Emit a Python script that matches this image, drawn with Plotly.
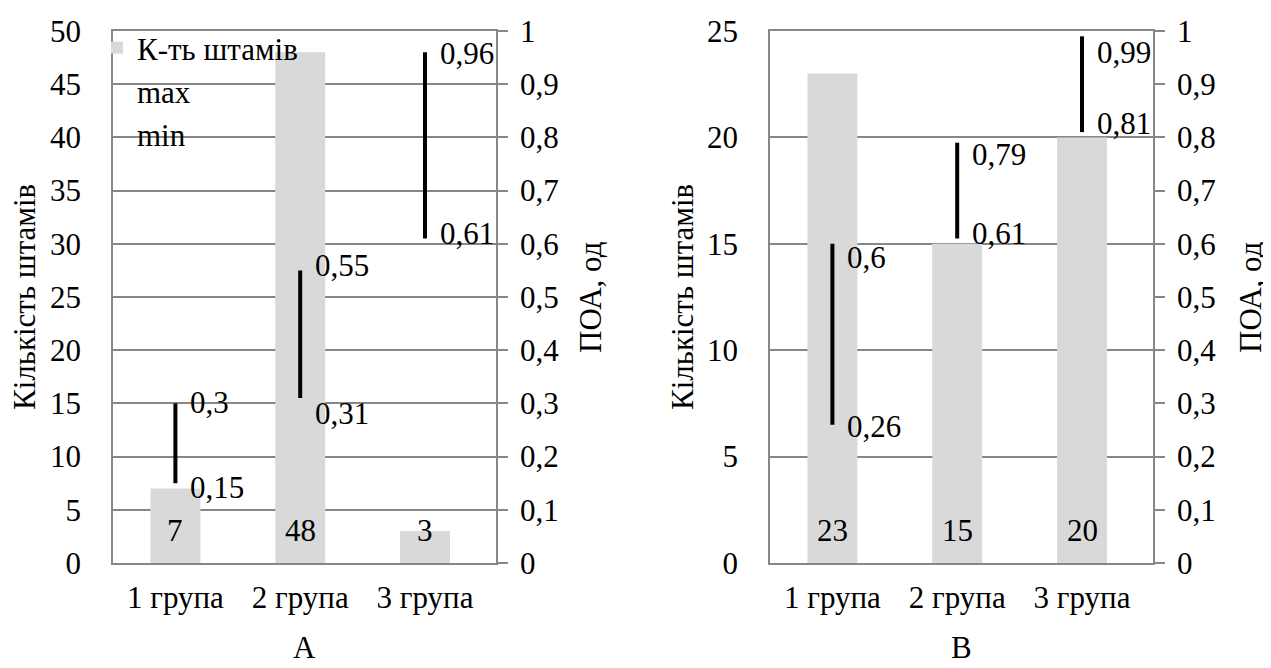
import plotly.graph_objects as go

# ---------------- data ----------------
categories = ["1 група", "2 група", "3 група"]

count_A = [7, 48, 3]
max_A = [0.3, 0.55, 0.96]
min_A = [0.15, 0.31, 0.61]

count_B = [23, 15, 20]
max_B = [0.6, 0.79, 0.99]
min_B = [0.26, 0.61, 0.81]

left_ticks_A = [0, 5, 10, 15, 20, 25, 30, 35, 40, 45, 50]
left_ticks_B = [0, 5, 10, 15, 20, 25]
right_ticks = [0, 0.1, 0.2, 0.3, 0.4, 0.5, 0.6, 0.7, 0.8, 0.9, 1]

legend_names = ["К-ть штамів", "max", "min"]
left_title = "Кількість штамів"
right_title = "ПОА, од"
panel_labels = ["А", "В"]

# ---------------- styles ----------------
FONT = "Liberation Serif"
FS = 31
BAR_COLOR = "#d9d9d9"
AX_COLOR = "#878787"
W, H = 1271, 668
OX, OY = 8, 8  # page body offset compensation


def px_x(px):
    return (px - OX) / W


def px_y(py):
    return (H - (py - OY)) / H


# label vertical nudges (px, positive = up)
max_shift_A = [1, 5, -1]
min_shift_A = [-4, -15, 5]
max_shift_B = [-14, -12, -16]
min_shift_B = [-2, 5, 9]


def fmt(v):
    return ("%g" % v).replace(".", ",")


fig = go.Figure()

panels = [
    dict(x="x", y="y", y2="y2", cnt=count_A, mx=max_A, mn=min_A,
         ms=max_shift_A, ns=min_shift_A, legend=True),
    dict(x="x2", y="y3", y2="y4", cnt=count_B, mx=max_B, mn=min_B,
         ms=max_shift_B, ns=min_shift_B, legend=False),
]

annotations = []
for p in panels:
    fig.add_trace(go.Bar(
        x=categories, y=p["cnt"], xaxis=p["x"], yaxis=p["y"],
        name=legend_names[0], marker=dict(color=BAR_COLOR, line=dict(width=0)),
        width=0.4, showlegend=p["legend"], hoverinfo="skip",
    ))
    # high-low lines
    lx, ly = [], []
    for c, a, b in zip(categories, p["mn"], p["mx"]):
        lx += [c, c, None]
        ly += [a, b, None]
    fig.add_trace(go.Scatter(
        x=lx, y=ly, xaxis=p["x"], yaxis=p["y2"], mode="lines",
        line=dict(color="black", width=4), showlegend=False, hoverinfo="skip",
    ))
    fig.add_trace(go.Scatter(
        x=categories, y=p["mx"], xaxis=p["x"], yaxis=p["y2"], mode="markers",
        marker=dict(color="rgba(0,0,0,0)", size=1), name=legend_names[1],
        showlegend=p["legend"], hoverinfo="skip",
    ))
    fig.add_trace(go.Scatter(
        x=categories, y=p["mn"], xaxis=p["x"], yaxis=p["y2"], mode="markers",
        marker=dict(color="rgba(0,0,0,0)", size=1), name=legend_names[2],
        showlegend=p["legend"], hoverinfo="skip",
    ))
    yref2 = p["y2"]
    for c, v, s in zip(categories, p["mx"], p["ms"]):
        annotations.append(dict(x=c, y=v, xref=p["x"], yref=yref2, text=fmt(v),
                                showarrow=False, xanchor="left", yanchor="middle",
                                xshift=13, yshift=s))
    for c, v, s in zip(categories, p["mn"], p["ns"]):
        annotations.append(dict(x=c, y=v, xref=p["x"], yref=yref2, text=fmt(v),
                                showarrow=False, xanchor="left", yanchor="middle",
                                xshift=13, yshift=s))
    for c, v in zip(categories, p["cnt"]):
        annotations.append(dict(x=c, y=0, xref=p["x"], yref=p["y"], text=str(v),
                                showarrow=False, xanchor="center", yanchor="middle",
                                yshift=33))

# plot area positions (reference pixels)
A_left, A_right = 113, 496
B_left, B_right = 770, 1153
top_px, bot_px = 31, 563
ydom = [px_y(bot_px), px_y(top_px)]

# axis titles and panel labels
annotations += [
    dict(x=px_x(24), y=px_y(297), xref="paper", yref="paper", text=left_title,
         textangle=-90, showarrow=False, xanchor="center", yanchor="middle"),
    dict(x=px_x(590), y=px_y(297), xref="paper", yref="paper", text=right_title,
         textangle=-90, showarrow=False, xanchor="center", yanchor="middle"),
    dict(x=px_x(682), y=px_y(297), xref="paper", yref="paper", text=left_title,
         textangle=-90, showarrow=False, xanchor="center", yanchor="middle"),
    dict(x=px_x(1250), y=px_y(297), xref="paper", yref="paper", text=right_title,
         textangle=-90, showarrow=False, xanchor="center", yanchor="middle"),
    dict(x=px_x((A_left + A_right) / 2), y=px_y(647), xref="paper", yref="paper",
         text=panel_labels[0], showarrow=False, xanchor="center", yanchor="middle"),
    dict(x=px_x((B_left + B_right) / 2), y=px_y(647), xref="paper", yref="paper",
         text=panel_labels[1], showarrow=False, xanchor="center", yanchor="middle"),
]

xcommon = dict(type="category", showgrid=False, showline=True, linecolor=AX_COLOR,
               linewidth=1.5, mirror=True, ticks="", ticklabelstandoff=6,
               tickfont=dict(size=FS), automargin=False)
ycommon = dict(showline=True, linecolor=AX_COLOR, linewidth=1.5, showgrid=True,
               gridcolor=AX_COLOR, gridwidth=1.5, zeroline=False, ticks="",
               ticklabelstandoff=24, tickfont=dict(size=FS), automargin=False)
y2common = dict(showline=True, linecolor=AX_COLOR, linewidth=1.5, showgrid=False,
                zeroline=False, ticks="outside", ticklen=10, tickcolor=AX_COLOR,
                tickwidth=1.5, ticklabelstandoff=6, side="right",
                tickvals=right_ticks, ticktext=[fmt(v) for v in right_ticks],
                range=[0, 1], tickfont=dict(size=FS), automargin=False)

fig.update_layout(
    template="none",
    width=W, height=H,
    margin=dict(l=0, r=0, t=0, b=0, pad=0, autoexpand=False),
    paper_bgcolor="white", plot_bgcolor="white",
    font=dict(family=FONT, size=FS, color="black"),
    bargap=0.6,
    showlegend=True,
    legend=dict(x=px_x(97), y=px_y(21), xanchor="left", yanchor="top",
                bgcolor="rgba(0,0,0,0)", font=dict(size=FS), itemwidth=30,
                tracegroupgap=0, traceorder="normal", borderwidth=0),
    xaxis=dict(domain=[px_x(A_left), px_x(A_right)], anchor="y", **xcommon),
    xaxis2=dict(domain=[px_x(B_left), px_x(B_right)], anchor="y3", **xcommon),
    yaxis=dict(domain=ydom, anchor="x", range=[0, 50], tickvals=left_ticks_A, **ycommon),
    yaxis2=dict(overlaying="y", anchor="x", **y2common),
    yaxis3=dict(domain=ydom, anchor="x2", range=[0, 25], tickvals=left_ticks_B, **ycommon),
    yaxis4=dict(overlaying="y3", anchor="x2", **y2common),
    annotations=annotations,
)

fig.write_html("out.html")
